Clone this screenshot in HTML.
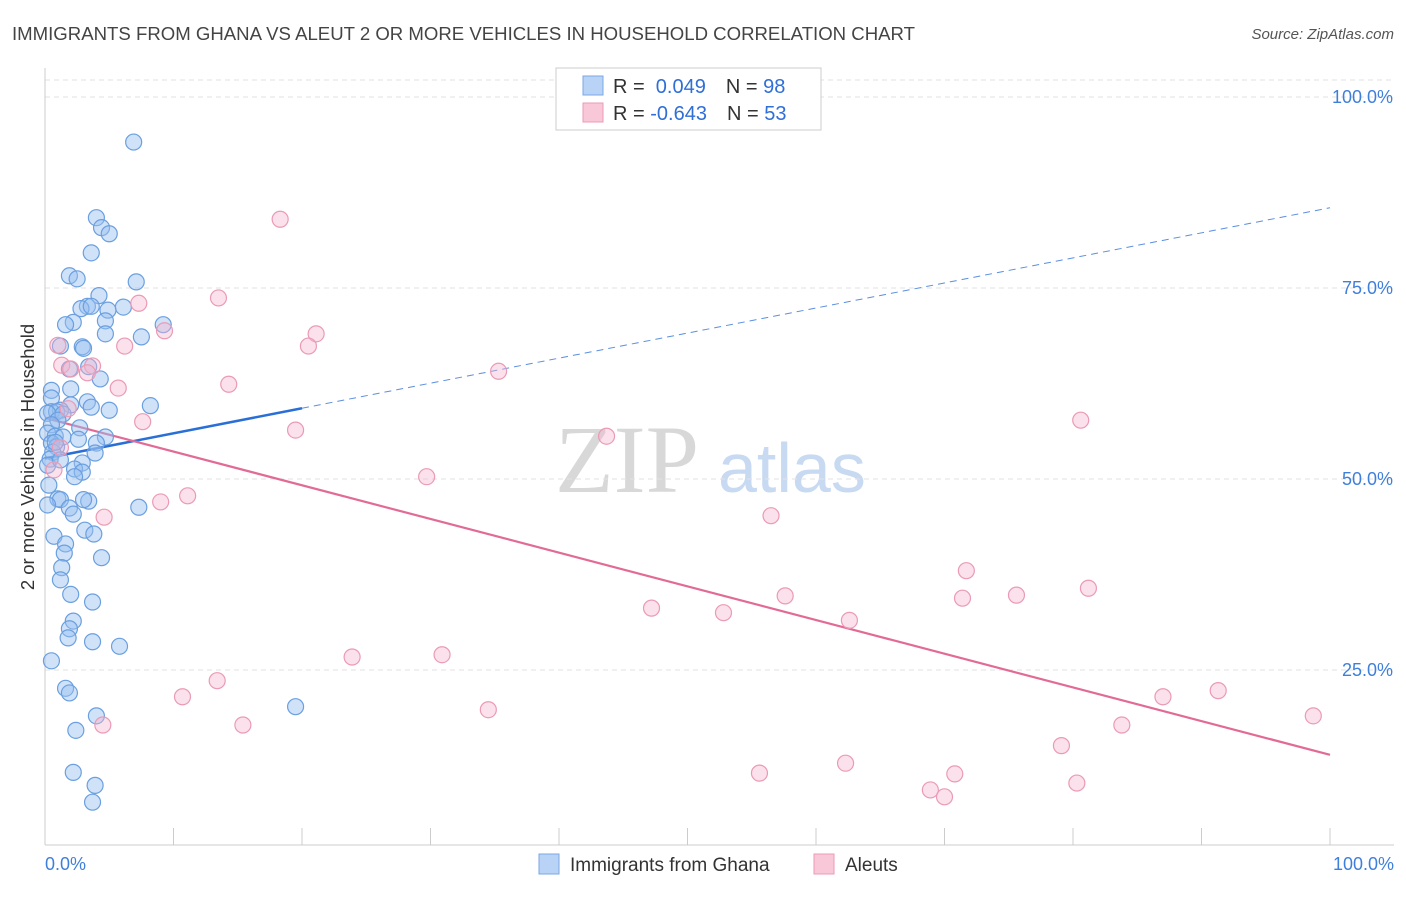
<!DOCTYPE html>
<html><head><meta charset="utf-8"><style>
body{margin:0;background:#fff;font-family:"Liberation Sans",sans-serif;}
svg text{font-family:"Liberation Sans",sans-serif;}
</style></head><body>
<svg id="chart" width="1406" height="892" xmlns="http://www.w3.org/2000/svg">
<text x="12" y="40" font-size="18.6" fill="#444">IMMIGRANTS FROM GHANA VS ALEUT 2 OR MORE VEHICLES IN HOUSEHOLD CORRELATION CHART</text>
<text x="1394" y="39" font-size="15" fill="#555" font-style="italic" text-anchor="end">Source: ZipAtlas.com</text>
<g>
<text x="555" y="492" font-size="96" fill="#d8d8d8" font-family="Liberation Serif" style="font-family:'Liberation Serif',serif">ZIP</text>
<text x="718" y="492" font-size="70" fill="#c8daf2">atlas</text>
</g>
<g id="grid"></g>
<g id="axes"></g>
<g id="trend"></g>
<g id="points"></g>
<text transform="translate(34,457) rotate(-90)" font-size="18.5" fill="#333" text-anchor="middle">2 or more Vehicles in Household</text>
<g>
<rect x="556" y="68" width="265" height="62" fill="#fff" stroke="#ccc"/>
<rect x="583" y="76" width="20" height="19" fill="#b8d3f5" stroke="#7aa7e5"/>
<rect x="583" y="103" width="20" height="19" fill="#f9c8d8" stroke="#eb9ab5"/>
<text x="613" y="93" font-size="20" fill="#333">R = <tspan fill="#2f6fd6">&#160;0.049</tspan><tspan dx="20">N = </tspan><tspan fill="#2f6fd6">98</tspan></text>
<text x="613" y="120" font-size="20" fill="#333">R = <tspan fill="#2f6fd6">-0.643</tspan><tspan dx="20">N = </tspan><tspan fill="#2f6fd6">53</tspan></text>
</g>
<g>
<rect x="539" y="854" width="20" height="20" fill="#b8d3f5" stroke="#7aa7e5"/>
<text x="570" y="871" font-size="19" fill="#333">Immigrants from Ghana</text>
<rect x="814" y="854" width="20" height="20" fill="#f9c8d8" stroke="#eb9ab5"/>
<text x="845" y="871" font-size="19" fill="#333">Aleuts</text>
</g>
</svg>
<script>
const blueX=[6.9,4.0,4.4,5.0,3.6,1.9,2.5,7.1,4.2,3.3,2.8,3.6,6.1,4.9,4.7,2.2,1.6,9.2,7.5,4.7,1.2,2.9,3.0,3.4,1.9,4.3,0.5,2.0,0.5,3.3,8.2,3.6,5.0,2.0,1.2,0.5,0.9,0.2,1.4,1.0,2.7,0.5,0.2,0.8,1.4,2.6,4.7,4.0,0.5,0.9,0.6,3.9,0.4,2.9,0.2,2.3,2.9,2.3,0.3,1.0,1.2,3.4,3.0,1.9,2.2,7.3,3.1,3.8,0.7,1.6,1.5,4.4,1.3,1.2,2.0,3.7,2.2,1.9,1.8,3.7,5.8,0.5,1.6,1.9,19.5,4.0,2.4,2.2,3.9,3.7,0.2,0.8,1.2];
const blueY=[94.1,84.2,82.9,82.1,79.6,76.6,76.2,75.8,74.0,72.6,72.3,72.6,72.5,72.1,70.7,70.5,70.2,70.2,68.6,69.0,67.4,67.3,67.1,64.7,64.4,63.1,61.6,61.8,60.6,60.1,59.6,59.4,59.0,59.7,59.0,58.8,58.8,58.6,58.5,57.7,56.7,57.1,56.0,55.6,55.5,55.2,55.5,54.7,54.7,54.2,53.5,53.4,52.6,52.1,51.8,51.3,50.9,50.3,49.2,47.4,47.3,47.1,47.3,46.2,45.4,46.3,43.3,42.8,42.5,41.5,40.3,39.7,38.4,36.8,34.9,33.9,31.4,30.4,29.2,28.7,28.1,26.2,22.6,22.0,20.2,19.0,17.1,11.6,9.9,7.7,46.6,54.8,52.5];
const pinkX=[18.3,7.3,13.5,21.1,20.5,9.3,6.2,1.0,1.3,2.0,3.7,3.3,5.7,14.3,35.3,7.6,19.5,43.7,80.6,29.7,11.1,9.0,4.6,56.5,71.7,81.2,57.6,75.6,71.4,47.2,52.8,62.6,23.9,30.9,13.4,10.7,34.5,87.0,91.3,98.7,15.4,4.5,83.8,79.1,55.6,62.3,70.8,68.9,70.0,80.3,0.7,1.8,1.2];
const pinkY=[84.0,73.0,73.7,69.0,67.4,69.4,67.4,67.5,64.9,64.4,64.8,63.9,61.9,62.4,64.1,57.5,56.4,55.6,57.7,50.3,47.8,47.0,45.0,45.2,38.0,35.7,34.7,34.8,34.4,33.1,32.5,31.5,26.7,27.0,23.6,21.5,19.8,21.5,22.3,19.0,17.8,17.8,17.8,15.1,11.5,12.8,11.4,9.3,8.4,10.2,51.2,59.2,54.1];
const blueTrend=[52.7,85.5];
const pinkTrend=[58.0,13.9];
const yTicks=[100,75,50,25];
const yTickLabels=["100.0%","75.0%","50.0%","25.0%"];
const NS="http://www.w3.org/2000/svg";
const sx=v=>45+v*12.85, sy=v=>861-v*7.64;
function mk(p,t,a){const e=document.createElementNS(NS,t);for(const k in a)e.setAttribute(k,a[k]);document.getElementById(p).appendChild(e);return e;}
yTicks.forEach((t,i)=>{
 const l=mk('grid','line',{x1:45,x2:1394,y1:sy(t),y2:sy(t),stroke:'#e2e2e2','stroke-dasharray':'5,4'});
 
 
 const tx=mk('grid','text',{x:1393,y:sy(t)+6,'font-size':18,fill:'#3f7fdc','text-anchor':'end'});
 tx.textContent=yTickLabels[i];
 
 
});
const tl=mk('grid','line',{x1:45,x2:1394,y1:80,y2:80,stroke:'#e2e2e2','stroke-dasharray':'5,4'});
const ax=mk('axes','line',{x1:45,x2:45,y1:68,y2:845,stroke:'#ccc'});


const bx=mk('axes','line',{x1:45,x2:1394,y1:845,y2:845,stroke:'#ccc'});


for(let i=1;i<=10;i++){mk('axes','line',{x1:sx(i*10),x2:sx(i*10),y1:828,y2:845,stroke:'#ccc'});}
const x0=mk('axes','text',{x:45,y:870,'font-size':18,fill:'#3f7fdc'});x0.textContent='0.0%';


const x1=mk('axes','text',{x:1394,y:870,'font-size':18,fill:'#3f7fdc','text-anchor':'end'});x1.textContent='100.0%';


blueX.forEach((x,i)=>{const c=mk('points','circle',{cx:sx(x),cy:sy(blueY[i]),r:8,fill:'rgba(150,190,240,0.45)',stroke:'#6a9fe0','stroke-width':1.2});
 
 });
pinkX.forEach((x,i)=>{const c=mk('points','circle',{cx:sx(x),cy:sy(pinkY[i]),r:8,fill:'rgba(245,180,205,0.4)',stroke:'#eb9ab5','stroke-width':1.2});
 
 });
const bAt=x=>blueTrend[0]+(blueTrend[1]-blueTrend[0])*x/100;
const pAt=x=>pinkTrend[0]+(pinkTrend[1]-pinkTrend[0])*x/100;
const b1=mk('trend','line',{x1:sx(0),y1:sy(bAt(0)),x2:sx(20),y2:sy(bAt(20)),stroke:'#2a6fd6','stroke-width':2.5});


const b2=mk('trend','line',{x1:sx(20),y1:sy(bAt(20)),x2:sx(100),y2:sy(bAt(100)),stroke:'#5a8fe0','stroke-width':1,'stroke-dasharray':'7,5'});


const p1=mk('trend','line',{x1:sx(0),y1:sy(pAt(0)),x2:sx(100),y2:sy(pAt(100)),stroke:'#e26b96','stroke-width':2.2});


</script>
</body></html>
